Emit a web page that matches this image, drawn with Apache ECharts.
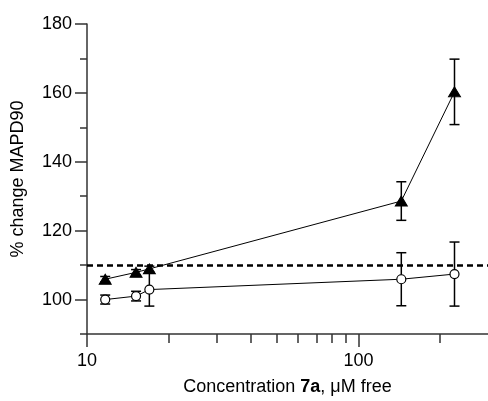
<!DOCTYPE html>
<html>
<head>
<meta charset="utf-8">
<script src="https://cdn.jsdelivr.net/npm/echarts@6/dist/echarts.min.js"></script>
<style>
html,body{margin:0;padding:0;background:#fff;}
#c{width:488px;height:401px;}
</style>
</head>
<body>
<div id="c"></div>
<script>
// Data
const conc = [11.67, 15.16, 16.97, 143.8, 225.8];
const triVals = [105.9, 107.9, 108.9, 128.6, 160.3];
const triErr = [0.8, 0.8, 0.8, 5.6, 9.5];
const circVals = [100.0, 101.0, 102.9, 105.9, 107.4];
const circErr = [1.3, 1.4, 4.8, 7.7, 9.3];
const thresholdValue = 110;
const yMajorTicks = [100, 120, 140, 160, 180];
const yMinorTicks = [90, 110, 130, 150, 170];
const xMajorTicks = [10, 100];
const xMinorTicks = [20, 30, 40, 50, 60, 70, 80, 90, 200];

const FONT = 'Liberation Sans, Arial, Helvetica, sans-serif';
const AX = '#333';

function pts(xs, ys) { return xs.map((x, i) => [x, ys[i]]); }
function errData(xs, ys, es) { return xs.map((x, i) => [x, ys[i] - es[i], ys[i] + es[i]]); }

function errRender(params, api) {
  const x = api.value(0);
  const lo = api.coord([x, api.value(1)]);
  const hi = api.coord([x, api.value(2)]);
  const hw = 5;
  const style = { stroke: '#000', lineWidth: 1.5 };
  return {
    type: 'group',
    children: [
      { type: 'line', shape: { x1: lo[0], y1: lo[1], x2: hi[0], y2: hi[1] }, style },
      { type: 'line', shape: { x1: lo[0] - hw, y1: lo[1], x2: lo[0] + hw, y2: lo[1] }, style },
      { type: 'line', shape: { x1: hi[0] - hw, y1: hi[1], x2: hi[0] + hw, y2: hi[1] }, style }
    ]
  };
}

const chart = echarts.init(document.getElementById('c'), null, { renderer: 'canvas' });
chart.setOption({
  animation: false,
  backgroundColor: '#fff',
  grid: { left: 87, top: 24, width: 402, height: 310, containLabel: false },
  xAxis: [
    {
      type: 'log', logBase: 10, min: 10, max: 300, position: 'bottom',
      name: 'Concentration {b|7a}, \u03bcM free',
      nameLocation: 'middle', nameGap: 44,
      nameTextStyle: {
        fontFamily: FONT, fontSize: 18, color: '#000',
        rich: { b: { fontFamily: FONT, fontSize: 18, fontWeight: 'bold', color: '#000' } }
      },
      axisLine: { show: true, lineStyle: { color: AX, width: 1.5 } },
      axisTick: { show: true, length: 13, customValues: xMajorTicks, lineStyle: { color: AX, width: 1.5 } },
      axisLabel: { show: true, customValues: xMajorTicks, margin: 18, fontFamily: FONT, fontSize: 18, color: '#000' },
      splitLine: { show: false }, minorTick: { show: false }
    },
    {
      type: 'log', logBase: 10, min: 10, max: 300, position: 'bottom', gridIndex: 0,
      axisLine: { show: false },
      axisTick: { show: true, length: 9, customValues: xMinorTicks, lineStyle: { color: AX, width: 1.5 } },
      axisLabel: { show: false },
      splitLine: { show: false }
    }
  ],
  yAxis: [
    {
      type: 'value', min: 90, max: 180, position: 'left',
      name: '% change MAPD90', nameLocation: 'middle', nameGap: 60,
      nameTextStyle: { fontFamily: FONT, fontSize: 18, color: '#000' },
      axisLine: { show: true, lineStyle: { color: AX, width: 1.5 } },
      axisTick: { show: true, length: 12, customValues: yMajorTicks, lineStyle: { color: AX, width: 1.5 } },
      axisLabel: { show: true, customValues: yMajorTicks, margin: 15, fontFamily: FONT, fontSize: 18, color: '#000' },
      splitLine: { show: false }
    },
    {
      type: 'value', min: 90, max: 180, position: 'left', offset: 0, gridIndex: 0,
      axisLine: { show: false },
      axisTick: { show: true, length: 7, customValues: yMinorTicks, lineStyle: { color: AX, width: 1.5 } },
      axisLabel: { show: false },
      splitLine: { show: false }
    }
  ],
  series: [
    {
      type: 'custom', name: 'triErr', renderItem: errRender, z: 2,
      data: errData(conc, triVals, triErr), encode: { x: 0, y: [1, 2] }
    },
    {
      type: 'custom', name: 'circErr', renderItem: errRender, z: 2,
      data: errData(conc, circVals, circErr), encode: { x: 0, y: [1, 2] }
    },
    {
      type: 'line', name: 'tri', data: pts(conc, triVals), z: 3,
      symbol: 'triangle', symbolSize: [12, 10], showSymbol: true,
      lineStyle: { color: '#000', width: 1 },
      itemStyle: { color: '#000', borderColor: '#000', borderWidth: 1 },
      markLine: {
        silent: true, symbol: 'none', label: { show: false },
        lineStyle: { color: '#000', width: 2.5, type: [6, 4] },
        data: [{ yAxis: thresholdValue }]
      }
    },
    {
      type: 'line', name: 'circ', data: pts(conc, circVals), z: 4,
      symbol: 'circle', symbolSize: 9, showSymbol: true,
      lineStyle: { color: '#000', width: 1 },
      itemStyle: { color: '#fff', borderColor: '#000', borderWidth: 1.2 }
    }
  ]
});
</script>
</body>
</html>
